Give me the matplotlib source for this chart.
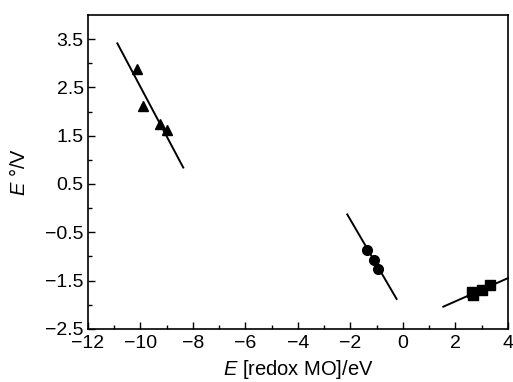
import numpy as np
import matplotlib.pyplot as plt
from matplotlib.ticker import MultipleLocator, FixedLocator

plt.rcParams['font.family'] = ['Liberation Sans', 'DejaVu Sans']
plt.rcParams['mathtext.fontset'] = 'custom'
plt.rcParams['mathtext.rm'] = 'Liberation Sans'
plt.rcParams['mathtext.it'] = 'Liberation Sans:italic'

# triangles
tri_x = [-10.12, -9.92, -9.26, -9.0]
tri_y = [2.89, 2.11, 1.75, 1.61]
tri_line_x = [-10.88, -8.37]
tri_line_y = [3.41, 0.84]

# circles
circ_x = [-1.38, -1.10, -0.96]
circ_y = [-0.86, -1.08, -1.25]
circ_line_x = [-2.12, -0.24]
circ_line_y = [-0.13, -1.88]

# squares
sq_x = [2.62, 2.68, 3.02, 3.31]
sq_y = [-1.74, -1.80, -1.69, -1.60]
sq_line_x = [1.54, 4.0]
sq_line_y = [-2.04, -1.45]

fig = plt.figure(figsize=(5.13, 3.82), dpi=100)
ax = fig.add_axes([0.1715, 0.139, 0.8185, 0.822])

for lx, ly in [(tri_line_x, tri_line_y), (circ_line_x, circ_line_y), (sq_line_x, sq_line_y)]:
    ax.plot(lx, ly, color='black', lw=1.4, clip_on=False)

ax.plot(tri_x, tri_y, '^', color='black', ms=7)
ax.plot(circ_x, circ_y, 'o', color='black', ms=7)
ax.plot(sq_x, sq_y, 's', color='black', ms=7)

ax.set_xlim(-12, 4)
ax.set_ylim(-2.5, 4.0)
ax.xaxis.set_major_locator(MultipleLocator(2))
ax.xaxis.set_minor_locator(MultipleLocator(1))
ax.yaxis.set_major_locator(FixedLocator([-2.5, -1.5, -0.5, 0.5, 1.5, 2.5, 3.5]))
ax.yaxis.set_minor_locator(FixedLocator([-2, -1, 0, 1, 2, 3]))
ax.set_yticklabels(['\u22122.5', '\u22121.5', '\u22120.5', '0.5', '1.5', '2.5', '3.5'])
ax.tick_params(which='both', direction='in', labelsize=14, width=1)
ax.tick_params(which='major', length=5, pad=3)
ax.tick_params(axis='x', which='major', pad=4.5)
ax.tick_params(which='minor', length=3)
for s in ax.spines.values():
    s.set_linewidth(1.2)

ax.set_xlabel('$E$ [redox MO]/eV', fontsize=14.5, labelpad=4)
ax.set_ylabel('$E$ \u00b0/V', fontsize=14.5, labelpad=12)

fig.savefig('out.png', dpi=100)
